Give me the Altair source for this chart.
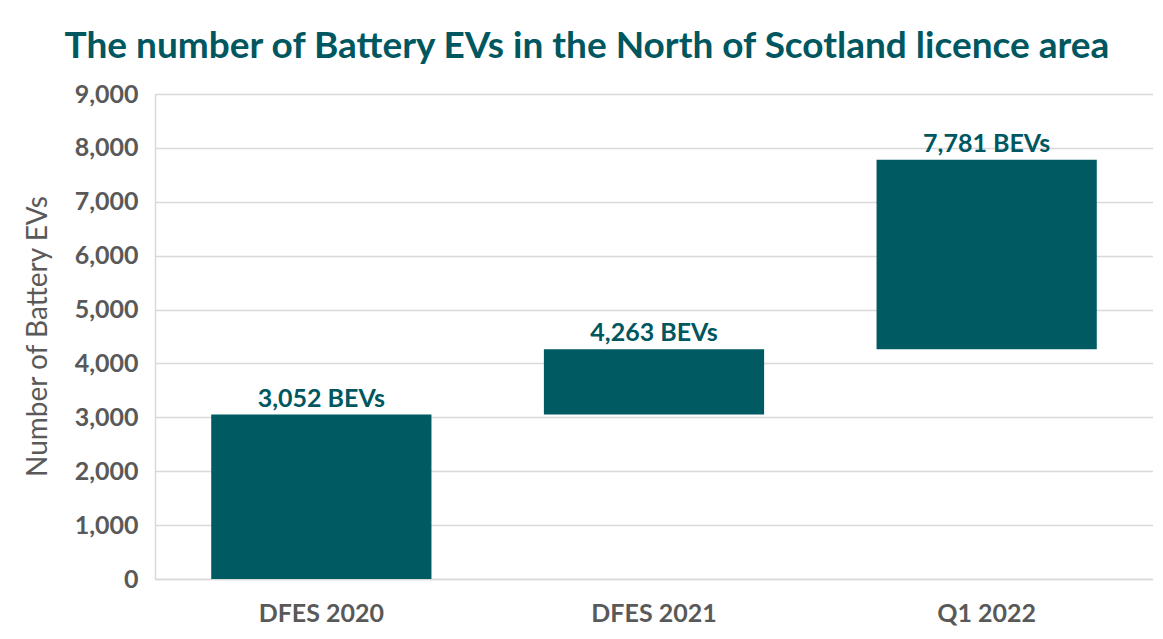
import altair as alt
import pandas as pd

categories = ["DFES 2020", "DFES 2021", "Q1 2022"]
bar_start = [0, 3052, 4263]
bar_end = [3052, 4263, 7781]
labels = ["3,052 BEVs", "4,263 BEVs", "7,781 BEVs"]

df = pd.DataFrame({"cat": categories, "start": bar_start, "end": bar_end, "label": labels})

TEAL = "#005A62"
GREY = "#595959"
FONT = "Lato"

x = alt.X("cat:N", sort=categories, title=None,
          scale=alt.Scale(paddingInner=0.338, paddingOuter=0.169),
          axis=alt.Axis(labelAngle=0, labelFont=FONT, labelFontSize=25, labelFontWeight="bold",
                        labelColor=GREY, labelPadding=22, ticks=False, domain=True,
                        domainColor="#d9d9d9", domainWidth=1.5))

bars = alt.Chart(df).mark_bar(color=TEAL).encode(
    x=x,
    y=alt.Y("start:Q", title="Number of Battery EVs",
            scale=alt.Scale(domain=[0, 9000], nice=False),
            axis=alt.Axis(values=list(range(0, 9001, 1000)), format=",.0f", labelFont=FONT,
                          labelFontSize=25, labelFontWeight="bold", labelColor=GREY,
                          labelPadding=17, ticks=False, domainColor="#d9d9d9", domainWidth=1.5,
                          gridColor="#d9d9d9", gridWidth=1.5,
                          titleFont=FONT, titleFontSize=28, titleFontWeight="normal",
                          titleColor=GREY, titleX=-117, titleY=242, titleAngle=-90,
                          titleBaseline="middle", titleAlign="center")),
    y2="end:Q",
)

text = alt.Chart(df).mark_text(color="#00575F", font=FONT, fontSize=25, fontWeight="bold",
                               baseline="alphabetic", dy=-8).encode(
    x=alt.X("cat:N", sort=categories),
    y="end:Q",
    text="label:N",
)

chart = alt.layer(bars, text).properties(
    width=998, height=485,
    title=alt.TitleParams("The number of Battery EVs in the North of Scotland licence area",
                          font=FONT, fontSize=37, fontWeight="bold", color="#00575F",
                          anchor="middle", dx=-67, dy=52, offset=39, baseline="alphabetic"),
    autosize=alt.AutoSizeParams(type="none"),
    padding={"left": 147, "top": 86, "right": 0, "bottom": 52},
).configure_view(stroke=None).configure(background="white")

chart.save("out.html", embed_options={"renderer": "svg", "actions": False})
